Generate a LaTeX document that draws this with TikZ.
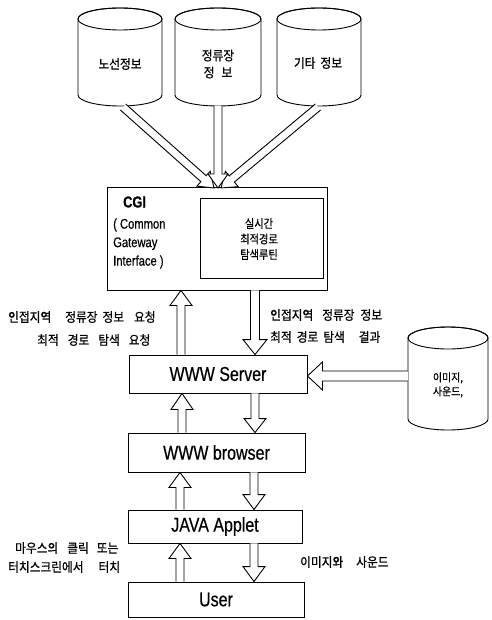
\documentclass[tikz,border=0pt]{standalone}
\usepackage{fontspec}
\usetikzlibrary{calc}
\newfontfamily\kr[FakeStretch=0.9,FakeBold=0.8]{Noto Sans CJK KR}
\newfontfamily\krn[FakeStretch=0.85,FakeBold=0.8]{Noto Sans CJK KR}
\newfontfamily\lat[FakeStretch=0.8,FakeBold=0.5]{Liberation Sans}
\tikzset{
  ln/.style={line width=0.9pt, draw=black},
  box/.style={ln, rectangle, inner sep=0pt},
  ha/.style={line width=0.9pt, draw=black, fill=white, line join=miter},
  krt/.style={inner sep=0pt, font={\kr\fontsize{13}{17}\selectfont}},
  krs/.style={inner sep=0pt, font={\krn\fontsize{12}{15.5}\selectfont}},
  krxs/.style={inner sep=0pt, font={\kr\fontsize{11}{14}\selectfont}},
  latbig/.style={font={\lat\fontsize{20}{22}\selectfont}},
  latmid/.style={inner sep=0pt, font={\lat\fontsize{14}{18.5}\selectfont}},
}
\newcommand\cyl[6]{%
  \node[inner sep=0pt, minimum width={2*#5pt}, minimum height={(#4-#3)*1pt}] (#1) at (#2,{(#3+#4)/2}) {};
  \draw[ln, fill=white] (#2-#5,#3+#6) -- (#2-#5,#4-#6)
    arc[start angle=180, end angle=360, x radius=#5pt, y radius=#6pt]
    -- (#2+#5,#3+#6)
    arc[start angle=0, end angle=180, x radius=#5pt, y radius=#6pt] -- cycle;
  \draw[ln] (#2,#3+#6) ellipse[x radius=#5pt, y radius=#6pt];
}
\newcommand\harrow[5]{%
  \path let \p1=($(#2)-(#1)$) in \pgfextra{%
    \pgfmathsetmacro\hlen{veclen(\x1,\y1)}\global\let\hlenG\hlen
    \pgfmathsetmacro\hang{atan2(\y1,\x1)}\global\let\hangG\hang};
  \begin{scope}[shift={(#1)}, rotate=\hangG]
    \draw[ha] (0pt,-#3pt) -- ({\hlenG*1pt-#5pt},-#3pt) -- ({\hlenG*1pt-#5pt},-#4pt)
      -- ({\hlenG*1pt},0pt) -- ({\hlenG*1pt-#5pt},#4pt) -- ({\hlenG*1pt-#5pt},#3pt) -- (0pt,#3pt);
  \end{scope}}
\begin{document}
\begin{tikzpicture}[x=1pt,y=-1pt]
\useasboundingbox (0,0) rectangle (491,620);
% databases
\cyl{db1}{120}{8}{106}{42}{11}
\cyl{db2}{218}{8}{106}{43}{11}
\cyl{db3}{319}{8}{106}{42}{11}
\cyl{dbr}{448}{327}{430}{40}{11}
\node[krt] (t1) at (120,64) {노선정보};
\node[krt, align=center] (t2) at (218,64) {정류장\\정\hspace{7pt}보};
\node[krt] (t3) at (318,63) {기타\hspace{5pt}정보};
\node[krxs, align=left] (tr) at (448,385) {이미지,\\사운드,};
% boxes
\node[box, minimum width=220pt, minimum height=103pt] (cgi) at (217,238.5) {};
\node[box, minimum width=123pt, minimum height=80pt] (rt) at (261.5,238) {};
\node[krs, align=center] (rtt) at (259,239) {실시간\\최적경로\\탐색루틴};
\node[inner sep=0pt, anchor=west, font={\lat\fontsize{16}{18}\selectfont\bfseries}] (cgit) at (123,202) {CGI};
\node[latmid, anchor=west, align=left] (cgid) at (113,243.5) {( Common\\Gateway\\Interface )};
\node[box, latbig, minimum width=178pt, minimum height=38pt] (server) at (218,374) {WWW Server};
\node[box, latbig, minimum width=177pt, minimum height=39pt] (browser) at (216.5,452.5) {WWW browser};
\node[box, latbig, minimum width=174pt, minimum height=33pt] (applet) at (215,526.5) {JAVA Applet};
\node[box, latbig, minimum width=176pt, minimum height=35pt] (user) at (216,599.5) {User};
% labels
\node[krt, anchor=west] (q1) at (8,317) {인접지역\hspace{14pt}정류장\hspace{5pt}정보\hspace{10pt}요청};
\node[krt, anchor=west] (q2) at (37,340) {최적\hspace{9pt}경로\hspace{9pt}탐색\hspace{9pt}요청};
\node[krt, anchor=west] (r1) at (270,315) {인접지역\hspace{9pt}정류장\hspace{6pt}정보};
\node[krt, anchor=west] (r2) at (270,337) {최적\hspace{5pt}경로\hspace{5pt}탐색\hspace{14pt}결과};
\node[krt, anchor=west] (m1) at (15,548) {마우스의\hspace{9pt}클릭\hspace{8pt}또는};
\node[krt, anchor=west] (m2) at (8,567) {터치스크린에서\hspace{15pt}터치};
\node[krt, anchor=west] (s1) at (300,562) {이미지와\hspace{13pt}사운드};
% arrow end points
\coordinate (t1s) at (123,107); \coordinate (t1e) at (214,188);
\coordinate (t2s) at (db2.south); \coordinate (t2e) at (218,188);
\coordinate (t3s) at (318,107); \coordinate (t3e) at (221,188);
\coordinate (u1s) at (181,0 |- server.north); \coordinate (u1e) at (181,0 |- cgi.south);
\coordinate (d1s) at (255,0 |- cgi.south); \coordinate (d1e) at (255,0 |- server.north);
\coordinate (u2s) at (182,0 |- browser.north); \coordinate (u2e) at (182,0 |- server.south);
\coordinate (d2s) at (255,0 |- server.south); \coordinate (d2e) at (255,0 |- browser.north);
\coordinate (u3s) at (180,0 |- applet.north); \coordinate (u3e) at (180,0 |- browser.south);
\coordinate (d3s) at (254,0 |- browser.south); \coordinate (d3e) at (254,0 |- applet.north);
\coordinate (u4s) at (180,0 |- user.north); \coordinate (u4e) at (180,0 |- applet.south);
\coordinate (d4s) at (254,0 |- applet.south); \coordinate (d4e) at (254,0 |- user.north);
\coordinate (rs) at (dbr.west |- 0,376); \coordinate (re) at (server.east |- 0,376);
% arrows
\harrow{t1s}{t1e}{4}{10}{14}
\harrow{t3s}{t3e}{4}{10}{14}
\harrow{t2s}{t2e}{4}{10}{14}
\harrow{u1s}{u1e}{4}{11}{15}
\harrow{d1s}{d1e}{4.5}{12}{15}
\harrow{u2s}{u2e}{4}{11}{16}
\harrow{d2s}{d2e}{4}{11}{14}
\harrow{u3s}{u3e}{4}{11}{15}
\harrow{d3s}{d3e}{4}{11}{15}
\harrow{u4s}{u4e}{4}{11}{15}
\harrow{d4s}{d4e}{4}{11}{15}
\harrow{rs}{re}{5}{14}{15}
\end{tikzpicture}
\end{document}
